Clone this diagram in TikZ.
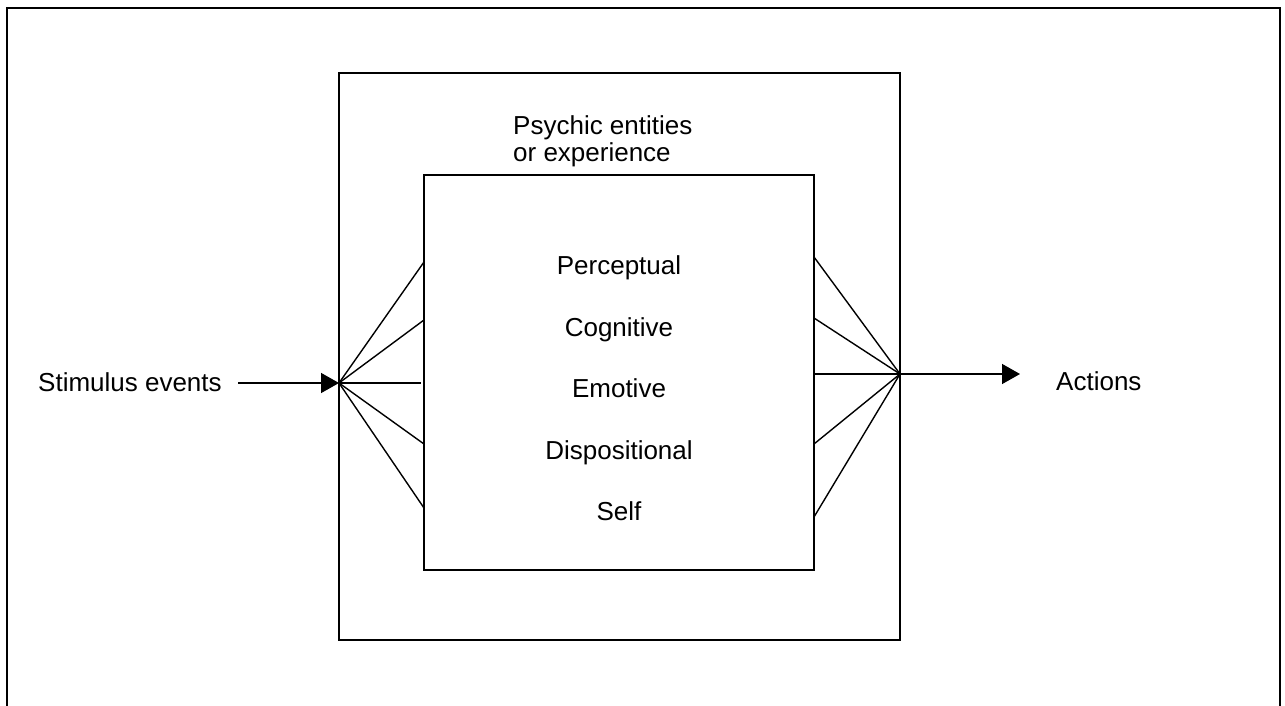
\documentclass[tikz,border=0pt]{standalone}
\usepackage{fontspec}
\setmainfont{Liberation Sans}
\usetikzlibrary{arrows.meta}
\begin{document}
\begin{tikzpicture}[x=1pt,y=-1pt,
  frame/.style={line width=2.2pt},
  box/.style={line width=1.8pt},
  spoke/.style={line width=1.4pt},
  flow/.style={line width=1.4pt,-{Triangle[length=18pt,width=20pt]}},
  label/.style={inner sep=0pt,font=\fontsize{26}{26.5}\selectfont},
  item/.style={label,anchor=base}]
\useasboundingbox (0,0) rectangle (1285,706);
% page frame, open at the bottom
\draw[frame] (7,730) -- (7,8) -- (1280,8) -- (1280,730);
% nested boxes
\draw[box] (339,73) rectangle (900,640);
\draw[box] (424,175) rectangle (814,570);
% texts
\node[label,anchor=base west,align=left] (psy) at (513,161) {Psychic entities\\or experience};
\node[item] (per) at (619,274) {Perceptual};
\node[item] (cog) at (619,336) {Cognitive};
\node[item] (emo) at (619,397) {Emotive};
\node[item] (dis) at (619,459) {Dispositional};
\node[item] (slf) at (619,520) {Self};
\node[label,anchor=base west] (stim) at (38,391) {Stimulus events};
\node[label,anchor=base west] (act) at (1056,390) {Actions};
% hubs and spoke ends
\coordinate (lhub) at (339,383);
\coordinate (rhub) at (900,374);
\coordinate (lin) at (238,383);
\coordinate (rout) at (1020,374);
\coordinate (l1) at (424,262);
\coordinate (l2) at (424,320);
\coordinate (l3) at (421,383);
\coordinate (l4) at (424,444);
\coordinate (l5) at (424,508);
\coordinate (r1) at (814,257);
\coordinate (r2) at (814,318);
\coordinate (r3) at (814,374);
\coordinate (r4) at (814,444);
\coordinate (r5) at (814,517);
% input and output
\draw[flow] (lin) -- (lhub);
\draw[flow] (rhub) -- (rout);
\foreach \k in {1,...,5} {
  \draw[spoke] (lhub) -- (l\k);
  \draw[spoke] (r\k) -- (rhub);
}
\end{tikzpicture}
\end{document}
